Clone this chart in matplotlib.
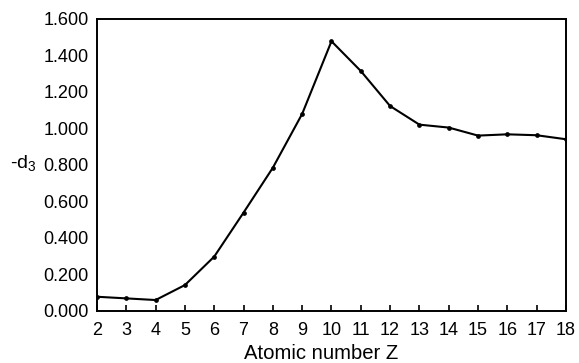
import matplotlib
matplotlib.use("Agg")
import matplotlib.pyplot as plt

Z = [2, 3, 4, 5, 6, 7, 8, 9, 10, 11, 12, 13, 14, 15, 16, 17, 18]
d3 = [0.078, 0.069, 0.060, 0.142, 0.298, 0.539, 0.785, 1.080, 1.478, 1.315,
      1.123, 1.021, 1.005, 0.961, 0.968, 0.963, 0.941]
yticks = [0.0, 0.2, 0.4, 0.6, 0.8, 1.0, 1.2, 1.4, 1.6]
ytick_labels = ["0.000", "0.200", "0.400", "0.600", "0.800", "1.000", "1.200", "1.400", "1.600"]

plt.rcParams['font.family'] = ['Liberation Sans', 'DejaVu Sans']
plt.rcParams['mathtext.fontset'] = 'custom'
plt.rcParams['mathtext.rm'] = 'Liberation Sans'
plt.rcParams['mathtext.it'] = 'Liberation Sans'
fig = plt.figure(figsize=(5.79, 3.63), dpi=100)
ax = fig.add_axes([0.1675, 0.1433, 0.81, 0.8044])
ax.plot(Z, d3, color='black', lw=1.5, marker='o', ms=2.4)
ax.set_xlim(2, 18)
ax.set_ylim(0, 1.6)
ax.set_xticks(Z)
ax.set_xticklabels([str(z) for z in Z], fontsize=13)
ax.set_yticks(yticks)
ax.set_yticklabels(ytick_labels, fontsize=13)
ax.tick_params(axis='x', direction='in', length=4, width=1.2, pad=8)
ax.tick_params(axis='y', length=0, pad=6)
for s in ax.spines.values():
    s.set_linewidth(1.4)
fig.text(0.555, 0.026, "Atomic number Z", fontsize=14.6, ha='center', va='center')
fig.text(0.04, 0.552, "-d$_3$", fontsize=14, ha='center', va='center')
fig.savefig("out.png", dpi=100)
